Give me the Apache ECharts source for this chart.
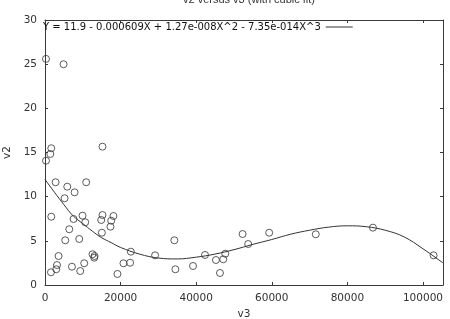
<!DOCTYPE html>
<html><head><meta charset="utf-8">
<script src="https://cdn.jsdelivr.net/npm/echarts@6/dist/echarts.min.js"></script>
<style>html,body{margin:0;padding:0;background:#fff}#c{width:450px;height:319px}</style>
</head><body><div id="c"></div>
<script>
var titleText = "v2 versus v3 (with cubic fit)";
var fitName = "Y = 11.9 - 0.000609X + 1.27e-008X^2 - 7.35e-014X^3";
var xTicks = [0, 20000, 40000, 60000, 80000, 100000];
var yTicks = [0, 5, 10, 15, 20, 25, 30];

var v3 = [264, 4910, 1660, 1400, 264, 2800, 5890, 10900, 7820, 5180,
  1660, 9930, 7550, 10640, 15210, 14870, 18110, 17510, 17320, 6420,
  15050, 5360, 9060, 3590, 12570, 13100, 13020, 3170, 7130, 2980,
  1580, 10380, 9320, 22710, 29130, 20760, 22520, 19170, 15210, 34220,
  34490, 39160, 42330, 45230, 47160, 47690, 46290, 52280, 53760, 59310,
  71640, 86770, 102800];
var v2 = [25.6, 24.99, 15.48, 14.83, 14.07, 11.63, 11.13, 11.63, 10.49, 9.82,
  7.73, 7.85, 7.47, 7.10, 7.92, 7.36, 7.81, 7.28, 6.60, 6.31,
  5.92, 5.06, 5.21, 3.28, 3.48, 3.28, 3.09, 2.26, 2.07, 1.78,
  1.44, 2.46, 1.58, 3.77, 3.36, 2.46, 2.52, 1.25, 15.66, 5.06,
  1.78, 2.15, 3.40, 2.83, 2.91, 3.54, 1.36, 5.77, 4.64, 5.92,
  5.74, 6.49, 3.36];

var fitX = [0, 2500, 5000, 7500, 10000, 12500, 15000, 17500, 20000, 25000, 30000, 35000, 40000, 45000, 50000, 55000, 60000, 65000, 70000, 75000, 80000, 85000, 90000, 95000, 100000, 105300];
var fitY = [11.95, 10.5, 9.1, 7.8, 6.95, 6.1, 5.35, 4.8, 4.25, 3.5, 3.05, 2.95, 3.15, 3.5, 4.0, 4.6, 5.15, 5.75, 6.2, 6.55, 6.7, 6.6, 6.2, 5.45, 4.1, 2.5];

var xMin = xTicks[0], xMax = 105300, xStep = xTicks[1] - xTicks[0];
var yMin = yTicks[0], yMax = yTicks[yTicks.length - 1], yStep = yTicks[1] - yTicks[0];

var font = "DejaVu Sans";
var frame = "#3a3a3a";
function axisCommon(show, showMax) {
  return {
    axisLine: {show: true, onZero: false, lineStyle: {color: frame, width: 1}},
    axisTick: {show: true, inside: true, length: 3, lineStyle: {color: frame}},
    splitLine: {show: false},
    axisLabel: {show: show, color: "#333", fontFamily: font, fontSize: 10.5, showMaxLabel: showMax,
      formatter: function (v) { return String(v); }}
  };
}
var pts = v3.map(function (x, i) { return [x, v2[i]]; });
var fit = fitX.map(function (x, i) { return [x, fitY[i]]; });

var chart = echarts.init(document.getElementById("c"), null, {renderer: "canvas"});
chart.setOption({
  animation: false,
  backgroundColor: "#fff",
  title: {text: titleText, left: 244, textAlign: "center", top: -11,
    textStyle: {fontFamily: "Liberation Sans", fontSize: 11, fontWeight: "normal", color: "#333"}},
  legend: {data: [{name: fitName, icon: "rect"}], left: 43, top: 22, padding: 0, align: "right",
    itemWidth: 27, itemHeight: 1, itemGap: 4,
    textStyle: {fontFamily: font, fontSize: 10, color: "#111", padding: [0, 0, 0, 0]},
    itemStyle: {color: "#333"}},
  grid: {left: 45, top: 20, right: 7, bottom: 34, containLabel: false, outerBoundsMode: "none"},
  xAxis: [
    Object.assign({type: "value", min: xMin, max: xMax, interval: xStep, position: "bottom",
      name: "v3", nameLocation: "middle", nameGap: 23,
      nameTextStyle: {fontFamily: font, fontSize: 10.5, color: "#333"}}, axisCommon(true, false)),
    Object.assign({type: "value", min: xMin, max: xMax, interval: xStep, position: "top"}, axisCommon(false, false))
  ],
  yAxis: [
    Object.assign({type: "value", min: yMin, max: yMax, interval: yStep, position: "left",
      name: "v2", nameLocation: "middle", nameGap: 31,
      nameTextStyle: {fontFamily: font, fontSize: 10.5, color: "#333"}}, axisCommon(true, true)),
    Object.assign({type: "value", min: yMin, max: yMax, interval: yStep, position: "right"}, axisCommon(false, true))
  ],
  series: [
    {type: "scatter", name: "data", data: pts, symbol: "circle", symbolSize: 7,
      itemStyle: {color: "rgba(255,255,255,0)", borderColor: "#333", borderWidth: 1}, z: 3},
    {type: "line", name: fitName, data: fit, smooth: 0.4, showSymbol: false,
      lineStyle: {color: "#333", width: 1}, itemStyle: {color: "#333"}, z: 2}
  ]
});
</script></body></html>
